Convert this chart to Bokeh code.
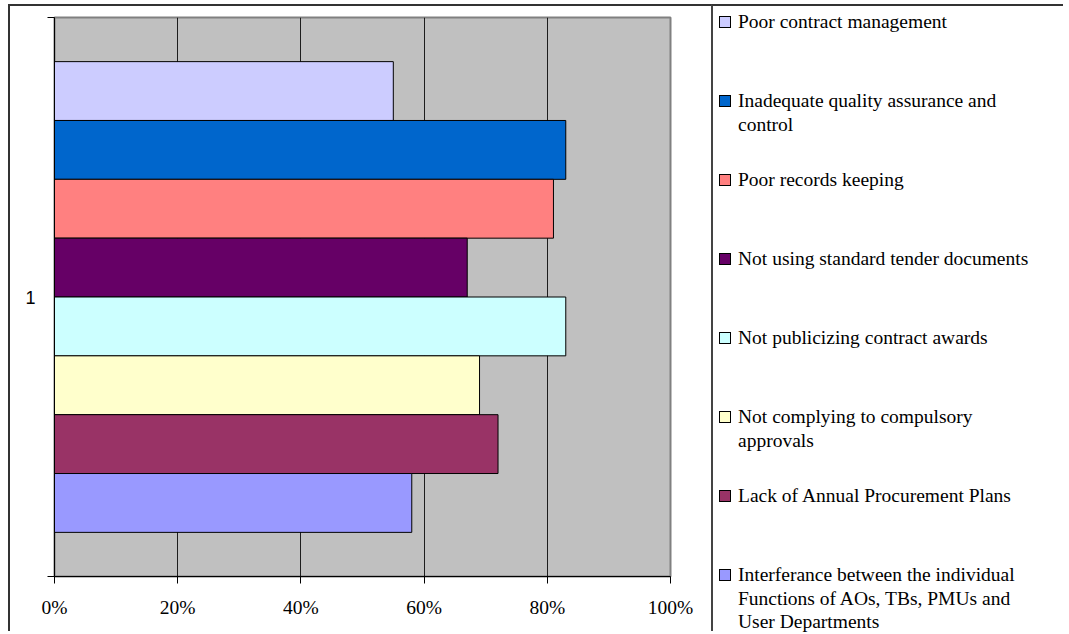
from bokeh.plotting import figure
from bokeh.layouts import row, column
from bokeh.models import (Range1d, FixedTicker, NumeralTickFormatter, ColumnDataSource, Spacer, Div)
from bokeh.embed import file_html
from bokeh.resources import INLINE

# ---- data (top to bottom) ----
categories = [
    "Poor contract management",
    "Inadequate quality assurance and\ncontrol",
    "Poor records keeping",
    "Not using standard tender documents",
    "Not publicizing contract awards",
    "Not complying to compulsory\napprovals",
    "Lack of Annual Procurement Plans",
    "Interferance between the individual\nFunctions of AOs, TBs, PMUs and\nUser Departments",
]
values = [0.55, 0.83, 0.81, 0.67, 0.83, 0.69, 0.72, 0.58]
colors = ["#CCCCFF", "#0066CC", "#FF8080", "#660066",
          "#CCFFFF", "#FFFFCC", "#993366", "#9999FF"]
x_ticks = [0, 0.2, 0.4, 0.6, 0.8, 1.0]
group_label = "1"

SERIF = "Liberation Serif"
FS = "19.5px"
n = len(values)
gap = 0.75
y_top = n + 2 * gap

bottoms = [gap + (n - 1 - i) for i in range(n)]
tops = [b + 1 for b in bottoms]
src = ColumnDataSource(dict(left=[0] * n, right=values, bottom=bottoms, top=tops, color=colors))

p1 = figure(width=703, height=627, x_range=Range1d(0, 1), y_range=Range1d(0, y_top),
            output_backend="svg", toolbar_location=None,
            min_border_left=44, min_border_right=43, min_border_top=11, min_border_bottom=57)
p1.background_fill_color = "#C0C0C0"
p1.border_fill_color = "white"
p1.outline_line_color = "#808080"
p1.outline_line_width = 2

p1.quad(left="left", right="right", bottom="bottom", top="top", fill_color="color",
        line_color="black", line_width=1, source=src)

p1.xgrid.ticker = FixedTicker(ticks=x_ticks[1:-1])
p1.xgrid.grid_line_color = "black"
p1.xgrid.grid_line_width = 1
p1.xgrid.grid_line_alpha = 0.85
p1.ygrid.grid_line_color = None
p1.xgrid.level = "image"

xa = p1.xaxis[0]
xa.ticker = FixedTicker(ticks=x_ticks)
xa.formatter = NumeralTickFormatter(format="0%")
xa.major_tick_out = 7
xa.major_tick_in = 0
xa.minor_tick_out = 0
xa.axis_line_color = "black"
xa.major_label_text_font = SERIF
xa.major_label_text_font_size = FS
xa.major_label_text_color = "black"
xa.major_label_standoff = 13

ya = p1.yaxis[0]
ya.ticker = FixedTicker(ticks=[y_top / 2], minor_ticks=[0, y_top])
ya.major_label_overrides = {y_top / 2: group_label}
ya.major_tick_out = 0
ya.major_tick_in = 0
ya.minor_tick_out = 7
ya.minor_tick_in = 0
ya.axis_line_color = "black"
ya.major_label_text_font = "Liberation Sans"
ya.major_label_text_font_size = "18px"
ya.major_label_text_color = "black"
ya.major_label_standoff = 12

p1.styles = {"border-top": "2px solid #333333", "border-left": "2px solid #333333"}

# ---- legend (HTML) ----
LW, LH = 352, 627
step = 79.0
y0 = 16.0
line_h = 23.3
parts = [f'<div style="position:relative;width:{LW}px;height:{LH}px;margin:0;padding:0;'
         f'font-family:\'{SERIF}\';font-size:{FS};color:black;line-height:{line_h}px;">']
for i, (lab, col) in enumerate(zip(categories, colors)):
    yc = y0 + i * step
    parts.append(
        f'<div style="position:absolute;left:6px;top:{yc - 6:.1f}px;width:12px;height:12px;'
        f'box-sizing:border-box;border:1px solid black;background:{col};"></div>')
    parts.append(
        f'<div style="position:absolute;left:25px;top:{yc - line_h / 2:.1f}px;white-space:nowrap;">'
        + "<br>".join(lab.split("\n")) + '</div>')
parts.append('</div>')
legend_div = Div(text="".join(parts), width=LW, height=LH, margin=0,
                 styles={"border-top": "2px solid #333333", "border-left": "2px solid #444444",
                         "overflow": "visible", "padding": "0", "margin": "0"})

layout = column(Spacer(height=4), row(Spacer(width=8), p1, legend_div))
open("out.html", "w").write(file_html(layout, INLINE))
